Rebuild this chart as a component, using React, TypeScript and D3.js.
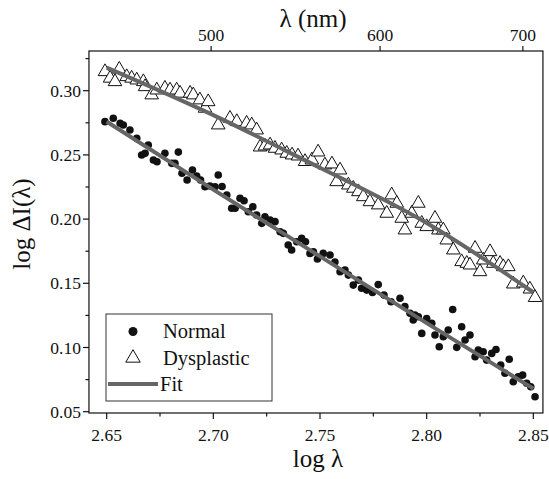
import React from "react";
import * as d3 from "d3";

// ---- data ----
const normalX = [2.6492,2.6531,2.6563,2.6578,2.6609,2.6641,2.6664,2.668,2.6695,2.6719,2.6736,2.6773,2.6805,2.682,2.6836,2.6853,2.6877,2.6902,2.6922,2.694,2.6961,2.6984,2.7008,2.7023,2.7041,2.7063,2.7086,2.7102,2.7125,2.7144,2.7164,2.7185,2.7203,2.7227,2.7242,2.7266,2.7289,2.7313,2.7328,2.7351,2.7367,2.7391,2.7414,2.7432,2.7453,2.7469,2.7488,2.7515,2.7547,2.757,2.7594,2.7617,2.7633,2.7656,2.768,2.7695,2.7719,2.7746,2.7773,2.78,2.7833,2.7875,2.7898,2.7922,2.7937,2.7945,2.7961,2.7977,2.8,2.8024,2.8039,2.8059,2.8078,2.8101,2.8122,2.8141,2.8164,2.818,2.8203,2.8227,2.8242,2.8265,2.8281,2.8305,2.8325,2.8347,2.8367,2.8387,2.8406,2.8429,2.845,2.8469,2.8488,2.8508];
const normalY = [0.2759,0.2785,0.2746,0.2733,0.2694,0.2629,0.2499,0.2512,0.2577,0.246,0.2447,0.2512,0.2434,0.2434,0.2522,0.2357,0.2304,0.2382,0.2335,0.2304,0.2252,0.2258,0.2252,0.2343,0.2254,0.2188,0.2084,0.2084,0.2162,0.2143,0.2057,0.2096,0.2032,0.1967,0.2018,0.1993,0.198,0.1902,0.1889,0.1798,0.1759,0.1824,0.185,0.1824,0.1733,0.1746,0.1689,0.1733,0.172,0.1666,0.159,0.1603,0.1564,0.1486,0.1525,0.1461,0.1447,0.1428,0.149,0.1408,0.1356,0.1383,0.1319,0.1266,0.1214,0.1253,0.1239,0.111,0.1225,0.1188,0.1097,0.1006,0.1084,0.1136,0.1296,0.1001,0.1162,0.1058,0.1097,0.0928,0.098,0.0967,0.0902,0.0954,0.0985,0.0863,0.0799,0.0908,0.0733,0.0772,0.0785,0.0721,0.0694,0.0616];

const dysX = [2.6492,2.6516,2.6539,2.6559,2.6594,2.6617,2.6641,2.6672,2.668,2.6711,2.6735,2.6773,2.6797,2.6828,2.6844,2.6891,2.6906,2.6937,2.6961,2.6976,2.7023,2.7078,2.711,2.7156,2.718,2.7203,2.7219,2.7242,2.7266,2.7289,2.732,2.7344,2.7369,2.7397,2.743,2.7462,2.7491,2.7523,2.7556,2.7578,2.7594,2.7633,2.7656,2.768,2.7703,2.7734,2.7773,2.7813,2.7836,2.786,2.7883,2.7898,2.793,2.7961,2.7977,2.8,2.8039,2.8055,2.8078,2.8094,2.8125,2.8164,2.8188,2.8203,2.8227,2.825,2.8265,2.8297,2.8312,2.8344,2.8359,2.8383,2.8406,2.8453,2.8484,2.8508];
const dysY = [0.3148,0.3097,0.307,0.3167,0.3109,0.3097,0.3083,0.307,0.3031,0.2967,0.3005,0.3019,0.3005,0.3005,0.298,0.298,0.2967,0.2928,0.2863,0.2914,0.2733,0.2785,0.2759,0.2746,0.2733,0.2694,0.2561,0.2569,0.2577,0.2551,0.2538,0.2512,0.2499,0.2491,0.2448,0.246,0.2522,0.2421,0.2429,0.2291,0.2382,0.2265,0.224,0.2213,0.2174,0.2135,0.211,0.2045,0.2188,0.2123,0.2006,0.1915,0.2045,0.2123,0.1967,0.1941,0.2006,0.1915,0.1915,0.1837,0.1759,0.1668,0.1655,0.1642,0.1772,0.159,0.1681,0.1746,0.1655,0.1655,0.1629,0.1629,0.1494,0.1502,0.1455,0.1389];

const fitX = [2.65, 2.70, 2.75, 2.80, 2.85];
const fitNormal = [0.276, 0.223, 0.171, 0.119, 0.068];
const fitDys = [0.318, 0.281, 0.240, 0.197, 0.143];

const xTicks = [2.65, 2.70, 2.75, 2.80, 2.85];
const xMinor = [2.675, 2.725, 2.775, 2.825];
const yTicks = [0.05, 0.10, 0.15, 0.20, 0.25, 0.30];
const yMinor = [0.075, 0.125, 0.175, 0.225, 0.275, 0.325];
const topTicksNm = [500, 600, 700];

const legendLabels = ["Normal", "Dysplastic", "Fit"];

const W = 549, H = 479;
const SERIF = { fontFamily: "'Liberation Serif', serif" };

export default function App() {
  const x = d3.scaleLinear().domain([2.65, 2.85]).range([106.67, 533.33]);
  const y = d3.scaleLinear().domain([0.05, 0.30]).range([411.7, 90.7]);
  const left = x(2.6417), right = x(2.8545);
  const top = 51, bottom = 413;

  const line = d3.line<[number, number]>()
    .x(d => x(d[0])).y(d => y(d[1])).curve(d3.curveNatural);
  const fitN = line(fitX.map((v, i) => [v, fitNormal[i]]));
  const fitD = line(fitX.map((v, i) => [v, fitDys[i]]));
  const tri = d3.symbol().type(d3.symbolTriangle).size(80)();
  const triLeg = d3.symbol().type(d3.symbolTriangle).size(90)();

  const fmt = d3.format(".2f");
  const tickFont = 17.5;

  return (
    <svg width={W} height={H} style={{ position: "absolute", left: 0, top: 0, background: "#fff" }}>
      <rect x={0} y={0} width={W} height={H} fill="#fff" />
      {/* triangles */}
      {dysX.map((v, i) => (
        <path key={"t" + i} d={tri as string} transform={`translate(${x(v)},${y(dysY[i])})`}
          fill="#fff" stroke="#111" strokeWidth={1} />
      ))}
      {/* dots */}
      {normalX.map((v, i) => (
        <circle key={"c" + i} cx={x(v)} cy={y(normalY[i])} r={3.8} fill="#111" />
      ))}
      {/* fits */}
      <path d={fitD as string} fill="none" stroke="#666" strokeWidth={4} />
      <path d={fitN as string} fill="none" stroke="#666" strokeWidth={4} />

      {/* frame */}
      <rect x={left} y={top} width={right - left} height={bottom - top} fill="none" stroke="#111" strokeWidth={1.2} />

      {/* bottom axis */}
      {xTicks.map(t => (
        <g key={"xt" + t}>
          <line x1={x(t)} x2={x(t)} y1={bottom} y2={bottom + 6} stroke="#111" strokeWidth={1.2} />
          <text x={x(t)} y={bottom + 28} fontSize={tickFont} textAnchor="middle" fill="#111" style={SERIF}>{fmt(t)}</text>
        </g>
      ))}
      {xMinor.map(t => (
        <line key={"xm" + t} x1={x(t)} x2={x(t)} y1={bottom} y2={bottom + 3.5} stroke="#111" strokeWidth={1.2} />
      ))}
      <text x={318} y={467} fontSize={25} textAnchor="middle" fill="#111" style={SERIF}>log λ</text>

      {/* top axis (wavelength) */}
      {topTicksNm.map(t => (
        <g key={"tt" + t}>
          <line x1={x(Math.log10(t))} x2={x(Math.log10(t))} y1={top} y2={top - 5} stroke="#111" strokeWidth={1.2} />
          <text x={x(Math.log10(t))} y={top - 10} fontSize={tickFont} textAnchor="middle" fill="#111" style={SERIF}>{t}</text>
        </g>
      ))}
      <text x={313} y={27} fontSize={25} textAnchor="middle" fill="#111" style={SERIF}>λ (nm)</text>

      {/* left axis */}
      {yTicks.map(t => (
        <g key={"yt" + t}>
          <line x1={left} x2={left - 6} y1={y(t)} y2={y(t)} stroke="#111" strokeWidth={1.2} />
          <text x={left - 8} y={y(t) + 6} fontSize={tickFont} textAnchor="end" fill="#111" style={SERIF}>{fmt(t)}</text>
        </g>
      ))}
      {yMinor.filter(t => y(t) >= top).map(t => (
        <line key={"ym" + t} x1={left} x2={left - 3.5} y1={y(t)} y2={y(t)} stroke="#111" strokeWidth={1.2} />
      ))}
      <text transform={`translate(30,${(top + bottom) / 2 - 8}) rotate(-90)`} fontSize={25} textAnchor="middle" fill="#111" style={SERIF}>log ΔI(λ)</text>

      {/* legend */}
      <rect x={106} y={314} width={166} height={87} fill="#fff" stroke="#333" strokeWidth={1} />
      <circle cx={133} cy={331.5} r={4.5} fill="#111" />
      <path d={triLeg as string} transform="translate(133,358)" fill="#fff" stroke="#111" strokeWidth={1} />
      <line x1={108} x2={158} y1={384} y2={384} stroke="#666" strokeWidth={4} />
      {legendLabels.map((s, i) => (
        <text key={s} x={i === 2 ? 160 : 163} y={338 + i * 26.5} fontSize={20.5} fill="#111" style={SERIF}>{s}</text>
      ))}
    </svg>
  );
}
